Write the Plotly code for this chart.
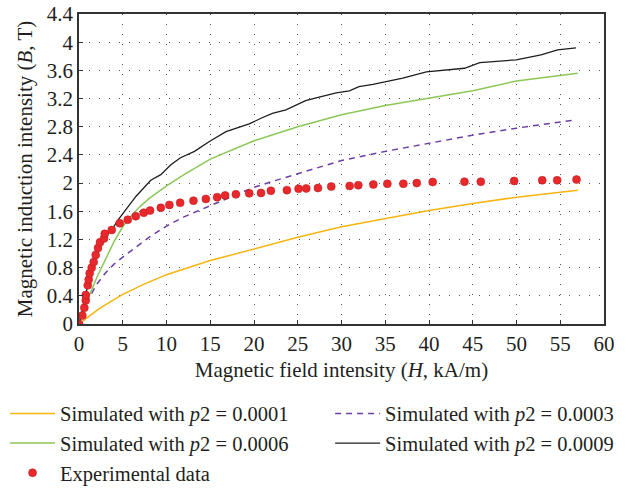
import plotly.graph_objects as go

# Experimental data
exp_H = [0, 0.38, 0.61, 0.77, 0.77, 1.0, 1.11, 1.22, 1.45, 1.68, 1.91, 2.17, 2.4, 2.86, 2.94,
         3.74, 4.66, 5.57, 6.49, 7.4, 8.12, 9.35, 10.33, 11.56, 13.08, 14.5, 15.79, 16.7, 17.93,
         19.45, 20.8, 21.93, 23.76, 25.09, 25.97, 27.31, 28.83, 30.93, 31.92, 33.64, 35.24,
         37.07, 38.6, 40.42, 44.05, 45.92, 49.73, 52.94, 54.65, 56.86]
exp_B = [0, 0.12, 0.23, 0.335, 0.41, 0.55, 0.63, 0.72, 0.80, 0.88, 0.98, 1.08, 1.16, 1.215, 1.28,
         1.335, 1.43, 1.48, 1.53, 1.58, 1.61, 1.65, 1.69, 1.72, 1.75, 1.775, 1.80, 1.825, 1.84,
         1.855, 1.86, 1.89, 1.90, 1.92, 1.925, 1.93, 1.95, 1.96, 1.97, 1.98, 1.99,
         1.99, 2.0, 2.015, 2.02, 2.02, 2.03, 2.04, 2.04, 2.05]

# Simulated p2 = 0.0001
s1_H = [0, 1, 2, 3, 5, 7.5, 10, 15, 20, 25, 30, 35, 40, 45, 50, 57]
s1_B = [0, 0.10, 0.19, 0.27, 0.42, 0.57, 0.70, 0.90, 1.07, 1.23, 1.38, 1.50, 1.61, 1.71, 1.80, 1.90]

# Simulated p2 = 0.0003
s3_H = [0, 0.5, 1, 2, 3, 4, 5, 6, 8, 10, 12, 15, 18, 20, 22, 25, 30, 35, 40, 45, 50, 56.4]
s3_B = [0, 0.2, 0.33, 0.56, 0.72, 0.85, 0.95, 1.04, 1.23, 1.39, 1.52, 1.68, 1.84, 1.94, 2.02,
        2.13, 2.32, 2.45, 2.57, 2.68, 2.78, 2.89]

# Simulated p2 = 0.0006
s6_H = [0, 0.5, 1, 2, 3, 4, 5, 6, 7, 8, 10, 12, 15, 18, 20, 25, 30, 35, 40, 45, 50, 57]
s6_B = [0, 0.18, 0.35, 0.65, 0.92, 1.17, 1.38, 1.54, 1.67, 1.78, 1.96, 2.12, 2.34, 2.50, 2.60,
        2.80, 2.97, 3.10, 3.21, 3.31, 3.45, 3.56]

# Simulated p2 = 0.0009
s9_H = [0, 0.4, 1, 2, 3, 3.8, 4.3, 5.3, 6.5, 8.2, 9.35, 10.5, 11.6, 13.2, 14.9, 16.8, 19.45,
        20.8, 22.1, 23.65, 25.9, 27.1, 29.4, 30.9, 32.0, 33.6, 37.0, 39.7, 41.2, 44.05, 45.8,
        49.97, 52.8, 54.7, 56.8]
s9_B = [0, 0.2, 0.55, 0.98, 1.25, 1.34, 1.45, 1.62, 1.81, 2.04, 2.12, 2.26, 2.36, 2.45, 2.59,
        2.73, 2.84, 2.92, 2.99, 3.04, 3.17, 3.21, 3.28, 3.31, 3.37, 3.40, 3.49, 3.58, 3.60, 3.63,
        3.71, 3.75, 3.82, 3.89, 3.92]

FONT = "Liberation Serif"
TXT = "#231f20"

fig = go.Figure()
fig.add_trace(go.Scatter(x=s1_H, y=s1_B, mode="lines", line=dict(color="#f6b40e", width=1.5),
                         name="Simulated with <i>p</i>2 = 0.0001", legend="legend"))
fig.add_trace(go.Scatter(x=s3_H, y=s3_B, mode="lines", line=dict(color="#6b3fa6", width=1.5, dash="6px,5px"),
                         name="Simulated with <i>p</i>2 = 0.0003", legend="legend2"))
fig.add_trace(go.Scatter(x=s6_H, y=s6_B, mode="lines", line=dict(color="#8cc757", width=1.5),
                         name="Simulated with <i>p</i>2 = 0.0006", legend="legend"))
fig.add_trace(go.Scatter(x=s9_H, y=s9_B, mode="lines", line=dict(color="#1e1e1e", width=1.3),
                         name="Simulated with <i>p</i>2 = 0.0009", legend="legend2"))
fig.add_trace(go.Scatter(x=exp_H, y=exp_B, mode="markers",
                         marker=dict(color="#e8282b", size=8, line=dict(color="#b81b1e", width=0.5)),
                         name="Experimental data", legend="legend"))

axis_common = dict(showline=True, linecolor="#333333", linewidth=1.5, mirror=True,
                   ticks="inside", ticklen=4, tickcolor="#333333", automargin=False,
                   showgrid=True, gridcolor="#555555", gridwidth=1, griddash="1px,9px",
                   zeroline=False, tickfont=dict(family=FONT, size=21, color=TXT))

fig.update_xaxes(range=[0, 60], dtick=5, tick0=0,
                 title=dict(text="Magnetic field intensity (<i>H</i>, kA/m)",
                            font=dict(family=FONT, size=21, color=TXT), standoff=7),
                 **axis_common)
fig.update_yaxes(range=[0, 4.4], dtick=0.4, tick0=0,
                 title=dict(text="Magnetic induction intensity (<i>B</i>, T)",
                            font=dict(family=FONT, size=21, color=TXT), standoff=8),
                 **axis_common)

leg_common = dict(orientation="h", xref="container", yref="container",
                  xanchor="left", yanchor="top", itemwidth=45,
                  entrywidth=300, entrywidthmode="pixels",
                  font=dict(family=FONT, size=20.5, color=TXT), bgcolor="rgba(0,0,0,0)")

fig.update_layout(
    width=630, height=489,
    margin=dict(l=79, r=26, t=14, b=165),
    plot_bgcolor="white", paper_bgcolor="white",
    font=dict(family=FONT, color=TXT),
    legend=dict(x=0.008, y=0.195, **leg_common),
    legend2=dict(x=0.524, y=0.195, **leg_common),
    showlegend=True,
)

fig.write_html("out.html", config={"displayModeBar": False},
               post_script="document.body.style.margin='0';")
